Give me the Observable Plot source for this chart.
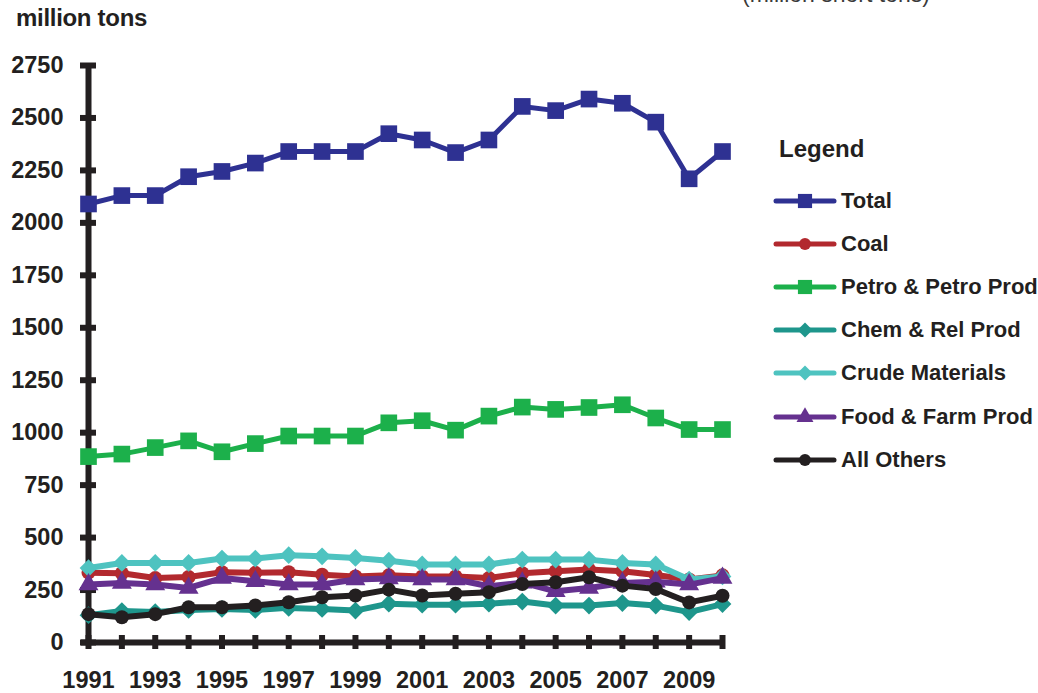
<!DOCTYPE html>
<html>
<head>
<meta charset="utf-8">
<script src="https://cdn.jsdelivr.net/npm/d3@7"></script>
<script src="https://cdn.jsdelivr.net/npm/@observablehq/plot@0.6"></script>
<style>
  html, body { margin: 0; padding: 0; background: #fff; overflow: hidden; }
  #wrap { position: relative; width: 1038px; height: 693px; font-family: "Liberation Sans", Arial, sans-serif; color: #231f20; }
  #chart { position: absolute; left: 0; top: 0; }
  .ylab { position: absolute; left: 16px; top: 4px; font-weight: bold; font-size: 24px; letter-spacing: -0.3px; }
  .note { position: absolute; left: 742px; top: -19px; font-size: 23px; color: #3a3a3a; white-space: nowrap; }
  #legend { position: absolute; left: 772px; top: 134px; }
  #legend .title { font-weight: bold; font-size: 24px; margin-left: 7px; height: 30px; line-height: 30px; margin-bottom: 15px; }
  #legend .row { display: flex; align-items: center; height: 43.2px; font-weight: bold; font-size: 22px; white-space: nowrap; }
  #legend svg { margin-right: 3px; }
</style>
</head>
<body>
<div id="wrap">
  <div id="chart"></div>
  <div class="ylab">million tons</div>
  <div class="note">(million short tons)</div>
  <div id="legend"></div>
</div>
<script>
const years = [1991,1992,1993,1994,1995,1996,1997,1998,1999,2000,2001,2002,2003,2004,2005,2006,2007,2008,2009,2010];
const xTickYears = [1991,1993,1995,1997,1999,2001,2003,2005,2007,2009];
const yTicks = [0,250,500,750,1000,1250,1500,1750,2000,2250,2500,2750];

const seriesNames = ["Total","Coal","Petro & Petro Prod","Chem & Rel Prod","Crude Materials","Food & Farm Prod","All Others"];
const total  = [2090,2130,2130,2220,2245,2285,2340,2340,2340,2425,2395,2335,2395,2555,2535,2590,2570,2480,2210,2340];
const coal   = [333,330,307,312,335,332,335,323,315,320,315,315,307,330,340,348,340,322,300,320];
const petro  = [886,898,929,961,909,948,984,984,984,1047,1057,1012,1079,1122,1111,1120,1133,1070,1015,1015];
const chem   = [130,150,145,155,160,155,165,160,152,185,180,180,185,195,176,176,188,176,145,183];
const crude  = [355,379,379,379,400,400,416,411,403,390,372,372,372,395,395,395,379,372,300,315];
const food   = [276,284,276,260,307,292,276,276,300,305,300,300,268,285,244,260,284,290,276,307];
const others = [135,120,135,168,168,176,192,216,224,252,224,232,240,279,287,311,271,255,191,223];

const colors  = ["#2e3192","#b2292e","#1cb04b","#1e968c","#4ec3c0","#65318f","#231f20"];
const symbols = ["square","circle","square","diamond2","diamond2","triangle","circle"];
const radii   = [9.4,7,9.4,8,8,7.4,7];
const values  = [total, coal, petro, chem, crude, food, others];

const axisColor = "#231f20";
const font = "'Liberation Sans', Arial, sans-serif";

const marks = [];
seriesNames.forEach((name, k) => {
  const rows = years.map((yr, i) => ({year: yr, value: values[k][i], series: name}));
  marks.push(Plot.line(rows, {x: "year", y: "value", stroke: colors[k], strokeWidth: k === 0 || k === 2 ? 5 : 6, strokeLinejoin: "round"}));
  marks.push(Plot.dot(rows, {x: "year", y: "value", symbol: () => symbols[k], fill: colors[k], stroke: "none", r: radii[k]}));
});

const chart = Plot.plot({
  width: 1038,
  height: 693,
  marginLeft: 88,
  marginRight: 316,
  marginTop: 65,
  marginBottom: 51,
  style: {fontFamily: font, fontSize: "23.5px", fontWeight: "bold", color: axisColor, background: "transparent", overflow: "visible"},
  x: {type: "linear", domain: [1991, 2010]},
  y: {domain: [0, 2750]},
  marks: [
    Plot.axisY({ticks: yTicks, tickSize: 0, tickPadding: 25, label: null, tickFormat: d => String(d), fontSize: 23.5, fontWeight: "bold", fill: axisColor}),
    Plot.axisX({ticks: xTickYears, tickSize: 0, tickPadding: 29, label: null, tickFormat: d => String(d), fontSize: 23.5, fontWeight: "bold", fill: axisColor}),
    Plot.ruleX([1991], {y1: 0, y2: 2750, stroke: axisColor, strokeWidth: 6}),
    Plot.ruleY([0], {x1: 1991, x2: 2010, insetLeft: -7, stroke: axisColor, strokeWidth: 6}),
    Plot.ruleY(yTicks, {x1: 1991, x2: 1991, insetLeft: -8, insetRight: -8, stroke: axisColor, strokeWidth: 6}),
    Plot.ruleX(years, {y1: 0, y2: 0, insetTop: -7, insetBottom: -7, stroke: axisColor, strokeWidth: 6}),
    ...marks
  ]
});
document.getElementById("chart").appendChild(chart);

// Legend
const legend = d3.select("#legend");
legend.append("div").attr("class", "title").text("Legend");
const symMap = {square: d3.symbolSquare, circle: d3.symbolCircle, diamond2: d3.symbolDiamond2, triangle: d3.symbolTriangle};
seriesNames.forEach((name, k) => {
  const row = legend.append("div").attr("class", "row");
  const svg = row.append("svg").attr("width", 66).attr("height", 24);
  svg.append("line").attr("x1", 4).attr("x2", 62).attr("y1", 12).attr("y2", 12)
    .attr("stroke", colors[k]).attr("stroke-width", 5).attr("stroke-linecap", "round");
  const rr = radii[k] * 0.85;
  svg.append("path").attr("transform", "translate(33,12)")
    .attr("d", d3.symbol(symMap[symbols[k]], Math.PI * rr * rr)())
    .attr("fill", colors[k]);
  row.append("span").text(name);
});
</script>
</body>
</html>
